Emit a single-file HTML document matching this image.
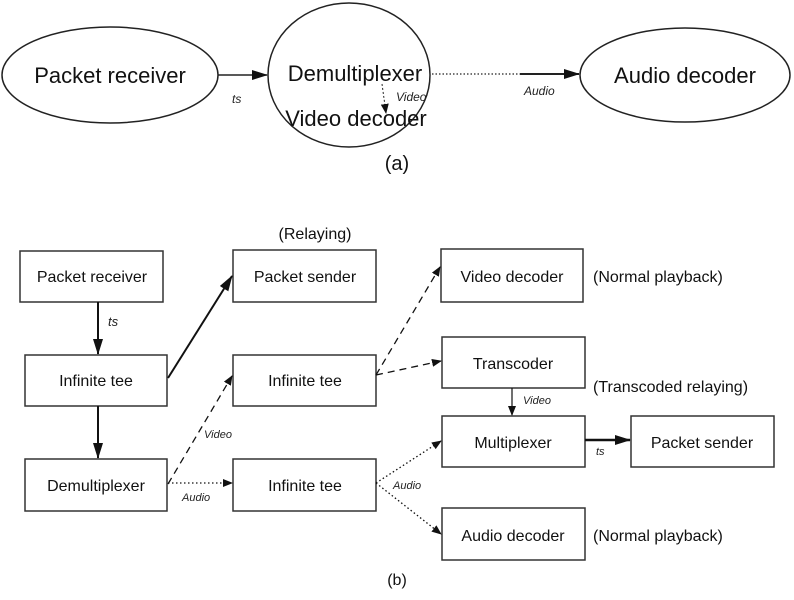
<!DOCTYPE html>
<html><head><style>body{margin:0;background:#fff}svg{display:block}</style></head><body>
<svg width="794" height="600" viewBox="0 0 794 600" xmlns="http://www.w3.org/2000/svg" font-family="Liberation Sans, sans-serif">
<defs>
<marker id="a" markerWidth="10" markerHeight="8" refX="9" refY="4" orient="auto" markerUnits="userSpaceOnUse"><path d="M0,0 L10,4 L0,8 z" fill="#111"/></marker>
<marker id="b" markerWidth="16" markerHeight="10" refX="15" refY="5" orient="auto" markerUnits="userSpaceOnUse"><path d="M0,0 L16,5 L0,10 z" fill="#111"/></marker>
</defs>
<g fill="none" stroke="#222" stroke-width="1.5">
<ellipse cx="110" cy="75" rx="108" ry="48"/>
<ellipse cx="349" cy="75" rx="81" ry="72"/>
<ellipse cx="685" cy="75" rx="105" ry="47"/>
</g>
<g fill="#111" font-size="22" text-anchor="middle">
<text x="110" y="83">Packet receiver</text>
<text x="355" y="81">Demultiplexer</text>
<text x="356" y="126">Video decoder</text>
<text x="685" y="83">Audio decoder</text>
<text x="397" y="170" font-size="20">(a)</text>
</g>
<g stroke="#222" fill="none">
<line x1="218" y1="75" x2="267" y2="75" stroke-width="1.5" marker-end="url(#b)"/>
<line x1="432" y1="74" x2="520" y2="74" stroke-width="1.2" stroke-dasharray="1.5,2"/>
<line x1="520" y1="74" x2="579" y2="74" stroke-width="2" marker-end="url(#b)"/>
<line x1="382" y1="84" x2="386" y2="113" stroke-width="1" stroke-dasharray="2,2" marker-end="url(#a)"/>
</g>
<g fill="#222" font-size="12" font-style="italic">
<text x="232" y="103">ts</text>
<text x="396" y="101">Video</text>
<text x="524" y="95">Audio</text>
</g>
<g fill="#fff" stroke="#333" stroke-width="1.5">
<rect x="20" y="251" width="143" height="51"/>
<rect x="25" y="355" width="142" height="51"/>
<rect x="25" y="459" width="142" height="52"/>
<rect x="233" y="250" width="143" height="52"/>
<rect x="233" y="355" width="143" height="51"/>
<rect x="233" y="459" width="143" height="52"/>
<rect x="441" y="249" width="142" height="53"/>
<rect x="442" y="337" width="143" height="51"/>
<rect x="442" y="416" width="143" height="51"/>
<rect x="631" y="416" width="143" height="51"/>
<rect x="442" y="508" width="143" height="52"/>
</g>
<g fill="#111" font-size="16" text-anchor="middle">
<text x="92" y="282">Packet receiver</text>
<text x="96" y="386">Infinite tee</text>
<text x="96" y="491">Demultiplexer</text>
<text x="305" y="282">Packet sender</text>
<text x="305" y="386">Infinite tee</text>
<text x="305" y="491">Infinite tee</text>
<text x="512" y="282">Video decoder</text>
<text x="513" y="369">Transcoder</text>
<text x="513" y="448">Multiplexer</text>
<text x="702" y="448">Packet sender</text>
<text x="513" y="541">Audio decoder</text>
<text x="315" y="239">(Relaying)</text>
<text x="397" y="585">(b)</text>
</g>
<g fill="#111" font-size="16">
<text x="593" y="282">(Normal playback)</text>
<text x="593" y="392">(Transcoded relaying)</text>
<text x="593" y="541">(Normal playback)</text>
</g>
<g stroke="#111" fill="none">
<line x1="98" y1="302" x2="98" y2="354" stroke-width="2" marker-end="url(#b)"/>
<line x1="98" y1="406" x2="98" y2="458" stroke-width="2" marker-end="url(#b)"/>
<line x1="168" y1="378" x2="232" y2="276" stroke-width="2" marker-end="url(#b)"/>
<line x1="168" y1="484" x2="232" y2="376" stroke-width="1.3" stroke-dasharray="7,5" marker-end="url(#a)"/>
<line x1="168" y1="483" x2="232" y2="483" stroke-width="1.3" stroke-dasharray="1.5,2.5" marker-end="url(#a)"/>
<line x1="376" y1="375" x2="440" y2="267" stroke-width="1.3" stroke-dasharray="7,5" marker-end="url(#a)"/>
<line x1="376" y1="375" x2="441" y2="361" stroke-width="1.3" stroke-dasharray="7,5" marker-end="url(#a)"/>
<line x1="512" y1="388" x2="512" y2="415" stroke-width="1.2" marker-end="url(#a)"/>
<line x1="376" y1="483" x2="441" y2="441" stroke-width="1.3" stroke-dasharray="1.5,2.5" marker-end="url(#a)"/>
<line x1="376" y1="483" x2="441" y2="534" stroke-width="1.3" stroke-dasharray="1.5,2.5" marker-end="url(#a)"/>
<line x1="585" y1="440" x2="630" y2="440" stroke-width="2.5" marker-end="url(#b)"/>
</g>
<g fill="#222" font-size="11" font-style="italic">
<text x="108" y="326" font-size="13">ts</text>
<text x="204" y="438">Video</text>
<text x="182" y="501">Audio</text>
<text x="523" y="404">Video</text>
<text x="393" y="489">Audio</text>
<text x="596" y="455">ts</text>
</g>
</svg>
</body></html>
